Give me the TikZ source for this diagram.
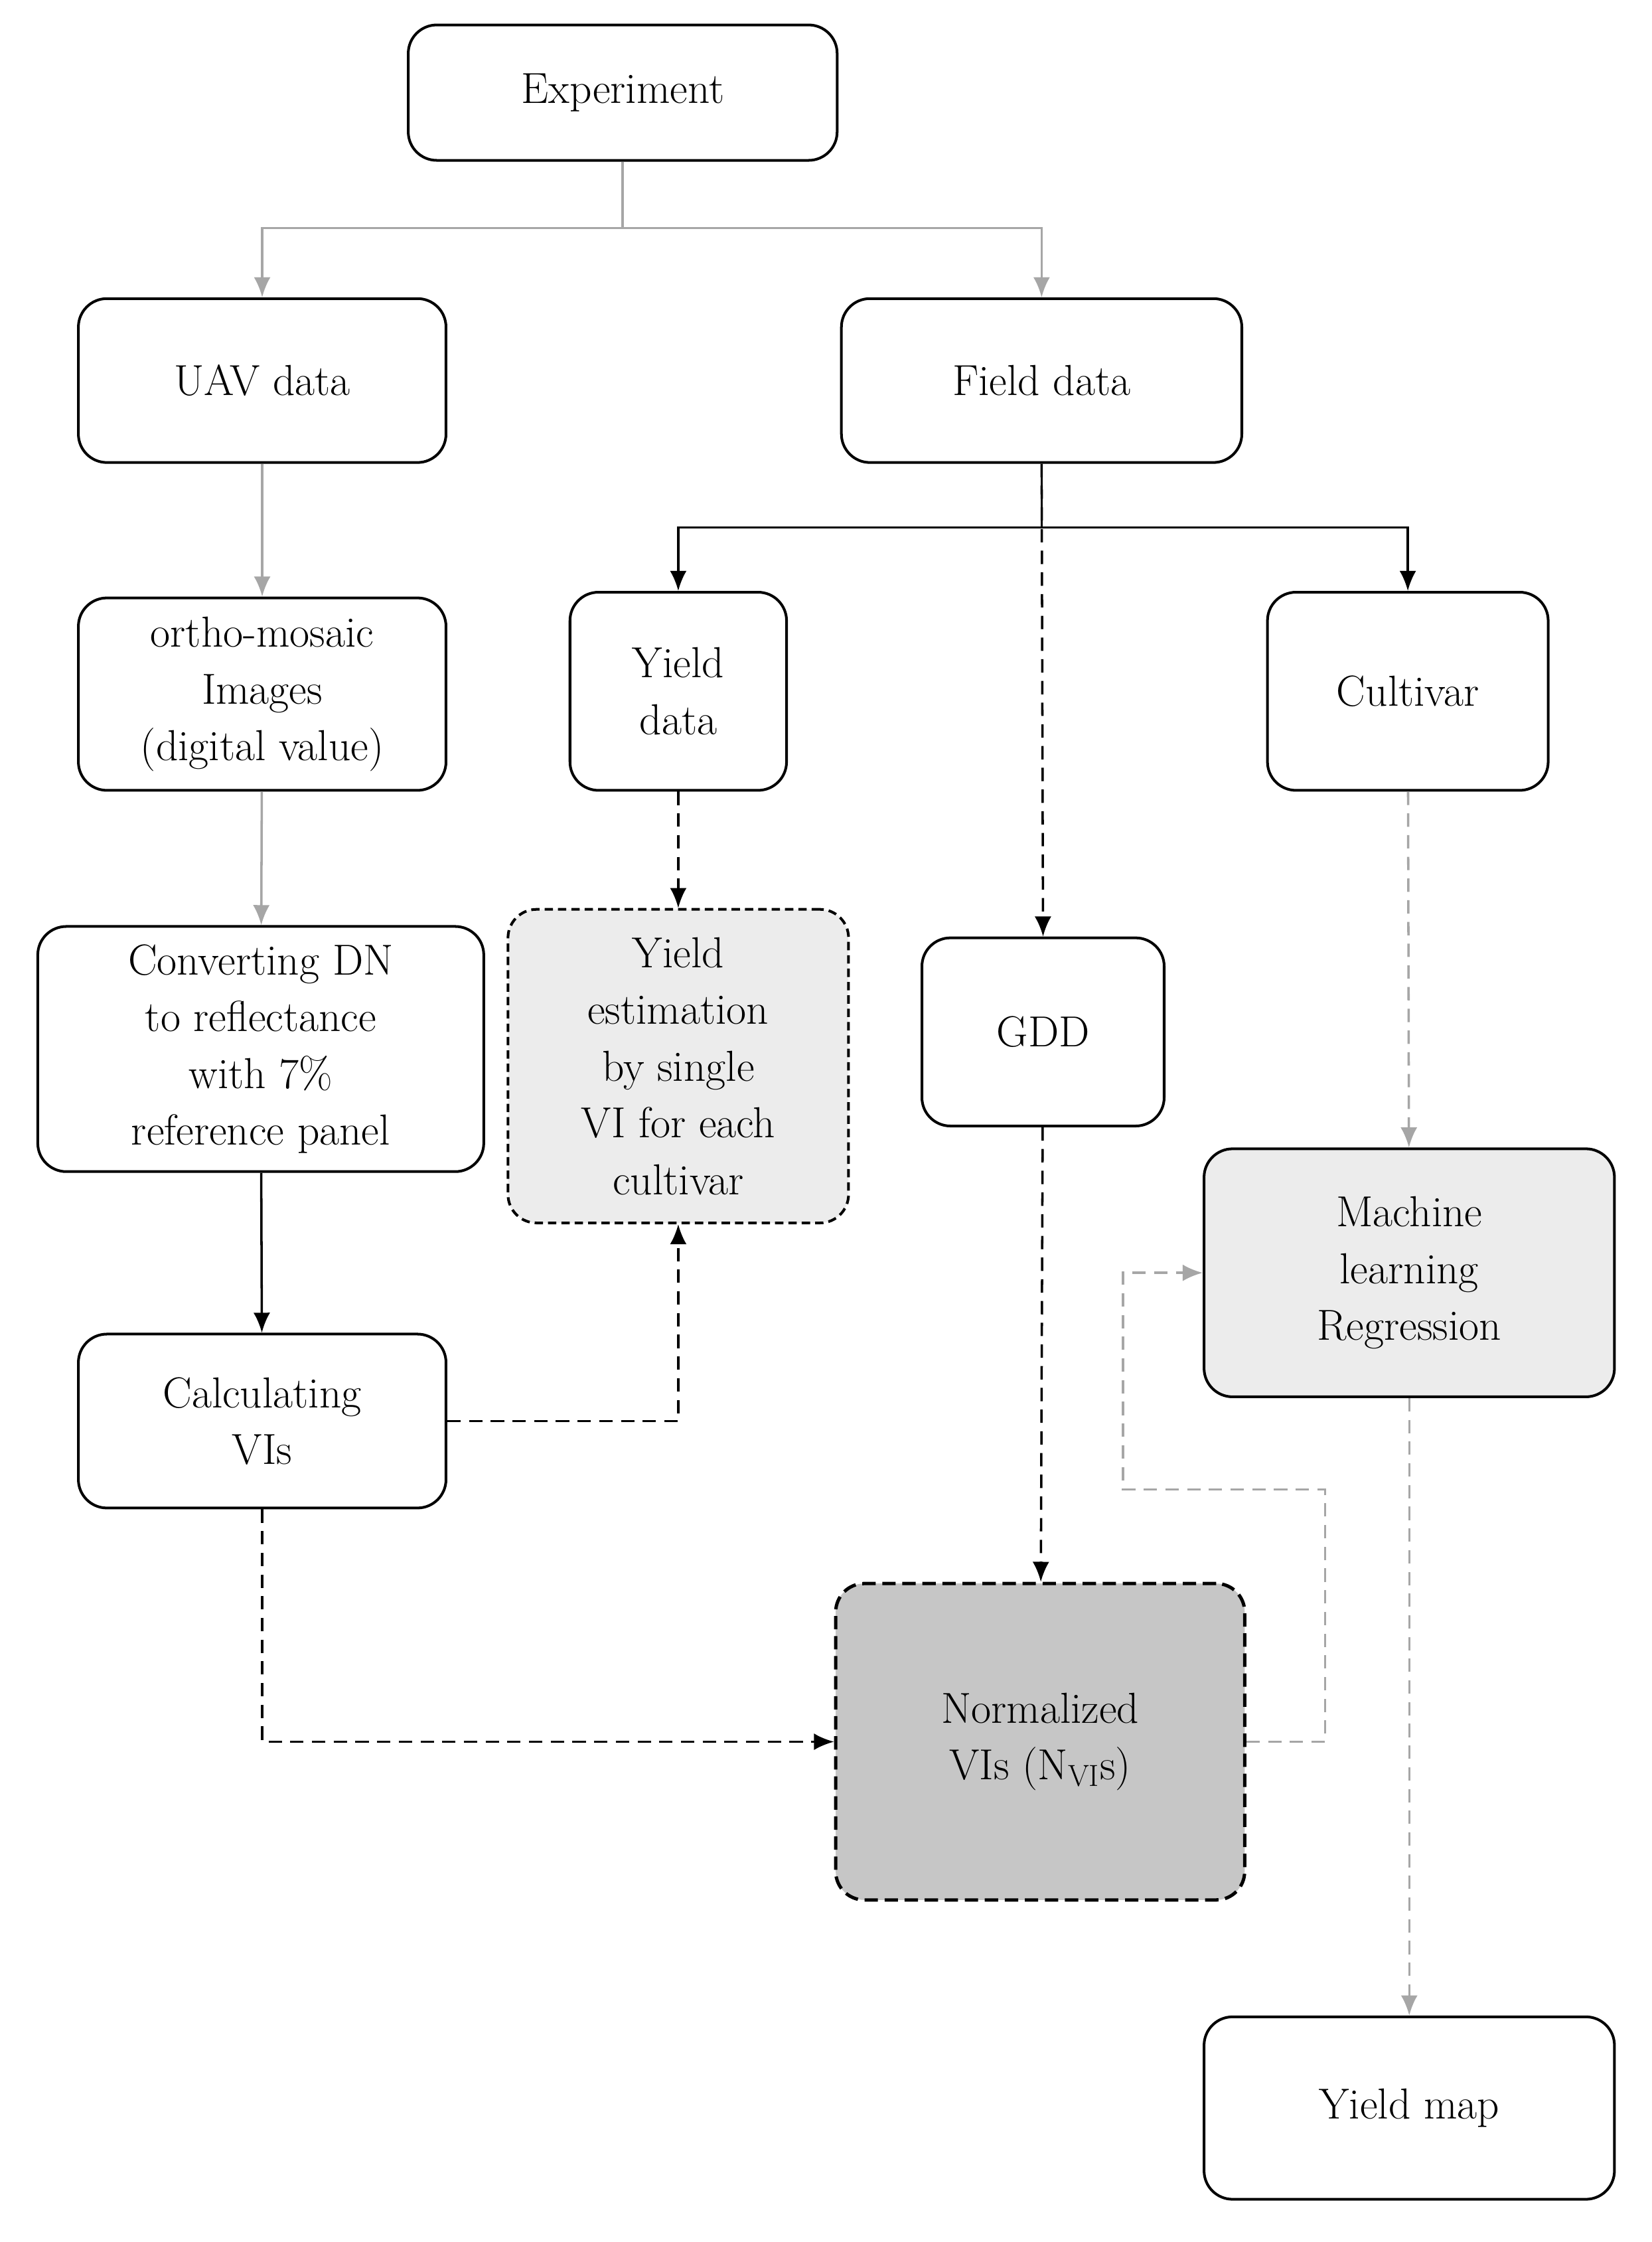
\documentclass[tikz,border=0pt]{standalone}
\usetikzlibrary{arrows.meta}
\begin{document}
\begin{tikzpicture}[x=0.03cm,y=-0.03cm,
 box/.style={draw,line width=1.6pt,rounded corners=0.6cm,align=center,font=\fontsize{26}{34}\selectfont,inner sep=0pt},
 g/.style={draw=gray!70,line width=1.4pt,-{Latex[length=12pt,width=10pt]}},
 k/.style={draw=black,line width=1.4pt,-{Latex[length=12pt,width=10pt]}},
 kd/.style={k,dash pattern=on 8pt off 5pt},
 gd/.style={g,dash pattern=on 8pt off 5pt}]
\useasboundingbox[fill=white] (0,0) rectangle (1159,1573);
\node[box,minimum width=301*0.03cm,minimum height=95*0.03cm] (exp) at (437,65) {Experiment};
\node[box,minimum width=258*0.03cm,minimum height=115*0.03cm] (uav) at (184,267) {UAV data};
\node[box,minimum width=281*0.03cm,minimum height=115*0.03cm] (field) at (731,267) {Field data};
\node[box,minimum width=258*0.03cm,minimum height=135*0.03cm] (ortho) at (184,487) {ortho-mosaic\\Images\\(digital value)};
\node[box,minimum width=152*0.03cm,minimum height=139*0.03cm] (yd) at (476,485) {Yield\\data};
\node[box,minimum width=197*0.03cm,minimum height=139*0.03cm] (cult) at (988,485) {Cultivar};
\node[box,minimum width=313*0.03cm,minimum height=172*0.03cm] (conv) at (183,736) {Converting DN\\to reflectance\\with 7\%\\reference panel};
\node[box,dash pattern=on 5pt off 3pt,fill=gray!15,minimum width=239*0.03cm,minimum height=220*0.03cm] (ye) at (476,748) {Yield\\estimation\\by single\\VI for each\\cultivar};
\node[box,minimum width=170*0.03cm,minimum height=132*0.03cm] (gdd) at (732,724) {GDD};
\node[box,fill=gray!15,minimum width=288*0.03cm,minimum height=174*0.03cm] (ml) at (989,893) {Machine\\learning\\Regression};
\node[box,minimum width=258*0.03cm,minimum height=122*0.03cm] (calc) at (184,997) {Calculating\\VIs};
\node[box,line width=2pt,dash pattern=on 8pt off 4pt,fill=gray!45,minimum width=287*0.03cm,minimum height=222*0.03cm] (norm) at (730,1222) {Normalized\\VIs (N\textsubscript{VI}s)};
\node[box,minimum width=288*0.03cm,minimum height=128*0.03cm] (ymap) at (989,1479) {Yield map};
\coordinate (e1) at (437,160);
\draw[g] (exp.south) -- (e1) -| (uav.north);
\draw[g] (e1) -| (field.north);
\draw[g] (uav) -- (ortho);
\draw[g] (ortho) -- (conv);
\draw[k] (conv) -- (calc);
\coordinate (f1) at (731,370);
\draw[k] (field.south) -- (f1) -| (yd.north);
\draw[k] (f1) -| (cult.north);
\draw[kd] (field.south) -- (gdd.north);
\draw[kd] (yd) -- (ye);
\draw[kd] (calc.east) -| (ye.south);
\draw[kd] (calc.south) |- (norm.west);
\draw[kd] (gdd) -- (norm);
\draw[gd] (cult) -- (ml);
\draw[gd] (ml) -- (ymap);
\draw[gd] (norm.east) -- (930,1222) -- (930,1045) -- (788,1045) |- (ml.west);
\end{tikzpicture}
\end{document}
